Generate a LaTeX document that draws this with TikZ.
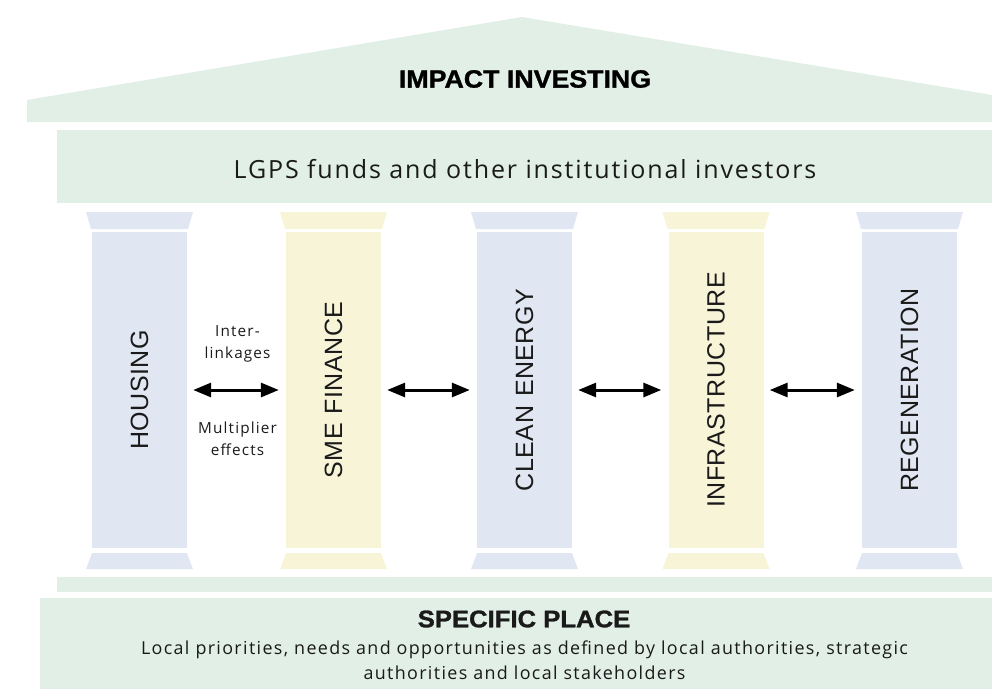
\documentclass[tikz,border=0pt]{standalone}
\usepackage{fontspec}
\setmainfont{Open Sans}[LetterSpace=7.5]
\newfontfamily\pillarfont{Liberation Sans}[LetterSpace=2,WordSpace=1.2]
\newfontfamily\headfont{Liberation Sans Bold}[FakeBold=1.2]
\usetikzlibrary{arrows.meta}
\definecolor{bandgreen}{HTML}{E1EFE6}
\definecolor{pblue}{HTML}{E1E7F2}
\definecolor{pyellow}{HTML}{F7F4D8}
\definecolor{ink}{HTML}{1A1A1A}
\tikzset{
  shaft/.style={draw=none, minimum width=95pt, minimum height=316pt, inner sep=0pt},
  pillartext/.style={rotate=90, inner sep=0pt, text=ink, font=\pillarfont\fontsize{25}{28}\selectfont},
  link/.style={{Triangle[length=18pt,width=14pt]}-{Triangle[length=18pt,width=14pt]}, line width=3pt, shorten >=7pt, shorten <=6pt},
  smalllabel/.style={align=center, text=ink, inner sep=0pt, font=\fontsize{15.3}{22}\selectfont},
}
\begin{document}
\begin{tikzpicture}[x=1pt,y=-1pt]
\useasboundingbox (0,0) rectangle (992,689);
% roof
\fill[bandgreen] (27,122) -- (27,100) -- (522,17) -- (992,95) -- (992,122) -- cycle;
\node[inner sep=0pt, font=\headfont\fontsize{25}{30}\selectfont] (title) at (525,79) {\scalebox{1.07}[1]{IMPACT INVESTING}};
% investors band
\fill[bandgreen] (57,130) rectangle (992,203);
\node[inner sep=0pt, text=ink, font=\fontsize{25}{30}\selectfont] (investors) at (525,169) {LGPS funds and other institutional investors};
% pillars
\foreach \n/\x/\c/\t in {hs/139.5/pblue/HOUSING, sme/333.5/pyellow/SME FINANCE, ce/524.5/pblue/CLEAN ENERGY, inf/716/pyellow/INFRASTRUCTURE, reg/909.5/pblue/REGENERATION}{
  \fill[\c] (\x-53.5,212) -- (\x+53.5,212) -- (\x+48.5,229) -- (\x-48.5,229) -- cycle;
  \node[shaft, fill=\c] (\n) at (\x,390) {};
  \node[pillartext] (\n-t) at (\x,390) {\t};
  \fill[\c] (\x-47.5,553) -- (\x+47.5,553) -- (\x+53.5,569) -- (\x-53.5,569) -- cycle;
}
% arrows
\draw[link] (hs) -- (sme);
\draw[link] (sme) -- (ce);
\draw[link] (ce) -- (inf);
\draw[link] (inf) -- (reg);
\node[smalllabel] (inter) at (237.5,344) {Inter-\\linkages};
\node[smalllabel] (mult) at (237.5,439) {Multiplier\\effects};
% base
\fill[bandgreen] (57,577) rectangle (992,592);
\fill[bandgreen] (40,598) rectangle (992,689);
\node[inner sep=0pt, text=ink, font=\headfont\fontsize{24}{28}\selectfont] (place) at (524,619) {\scalebox{1.07}[1]{SPECIFIC PLACE}};
\node[align=center, inner sep=0pt, text=ink, font=\fontsize{17.9}{25}\selectfont] (placetext) at (524.5,660) {Local priorities, needs and opportunities as defined by local authorities, strategic\\authorities and local stakeholders};
\end{tikzpicture}
\end{document}
